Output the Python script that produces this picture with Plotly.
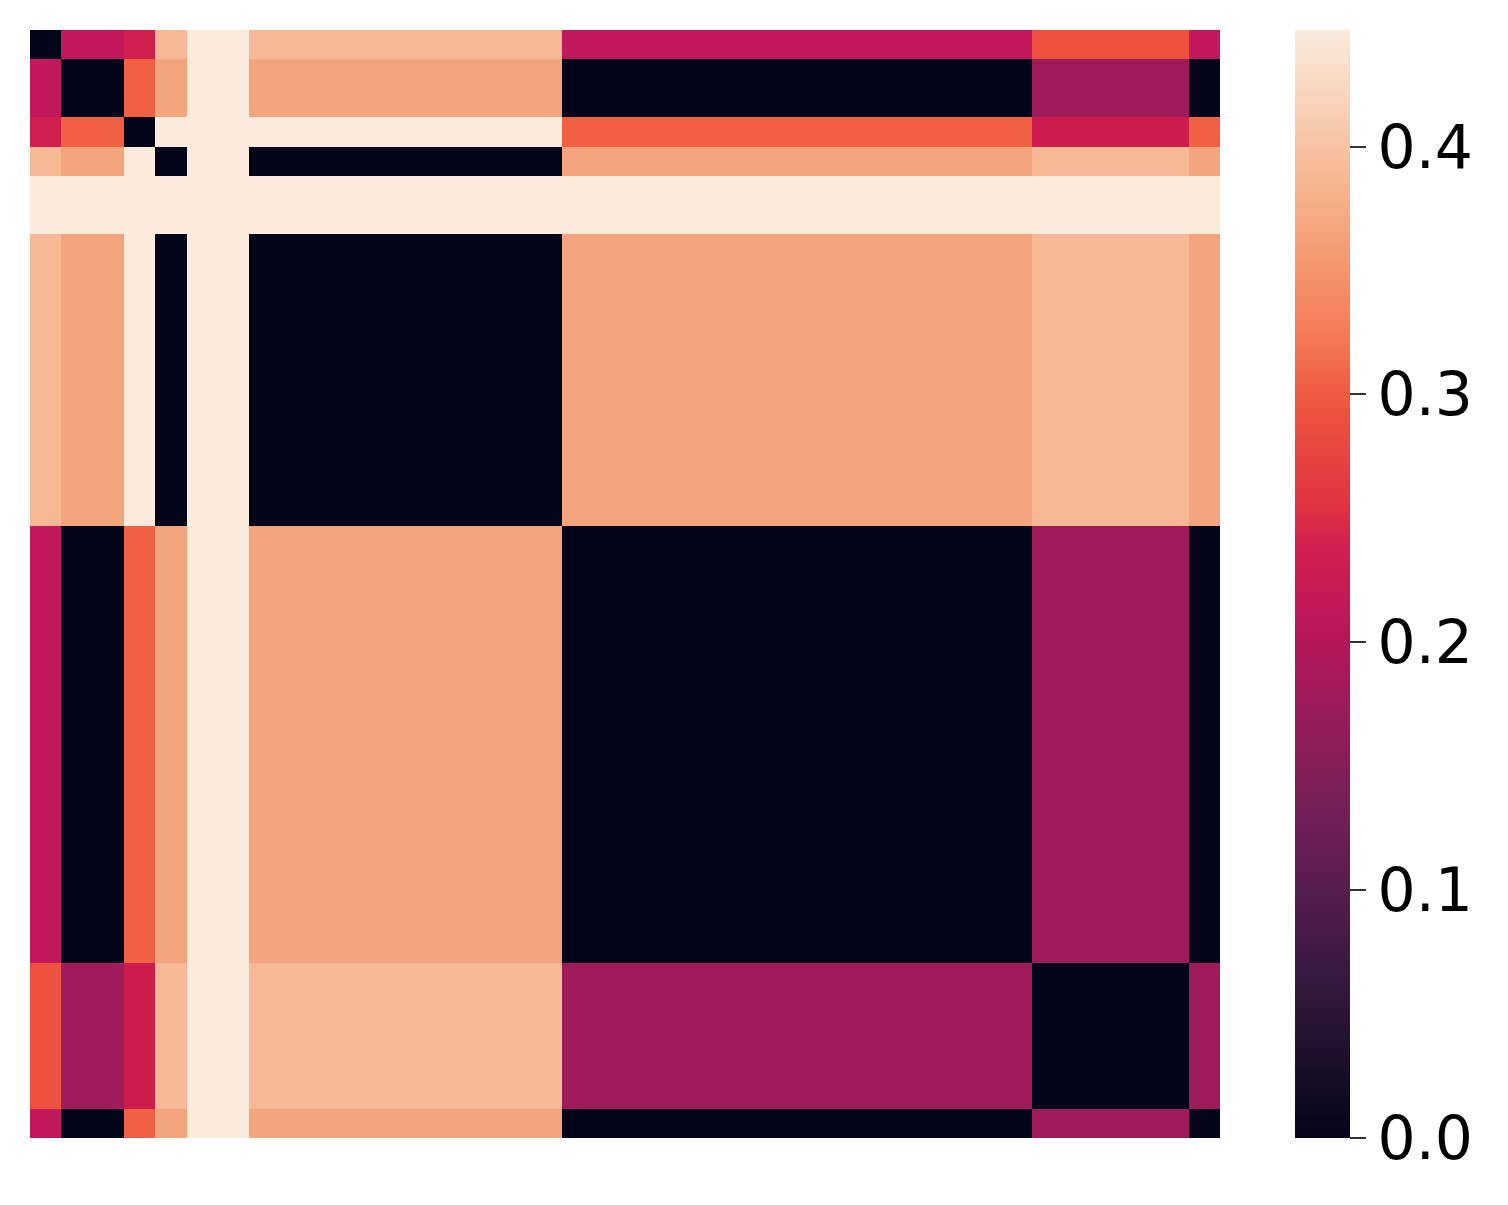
import numpy as np
import plotly.graph_objects as go

# Block structure of the 38x38 matrix (groups of identical rows/cols)
group_names = ["A", "B", "C", "D", "E", "F", "G", "H", "I"]
group_sizes = [1, 2, 1, 1, 2, 10, 15, 5, 1]

# Values between groups (symmetric)
row_A = [0.000, 0.214, 0.238, 0.388, 0.447, 0.388, 0.214, 0.292, 0.214]
row_B = [0.214, 0.000, 0.305, 0.367, 0.447, 0.367, 0.000, 0.178, 0.000]
row_C = [0.238, 0.305, 0.000, 0.447, 0.447, 0.447, 0.305, 0.230, 0.305]
row_D = [0.388, 0.367, 0.447, 0.000, 0.447, 0.000, 0.367, 0.388, 0.367]
row_E = [0.447, 0.447, 0.447, 0.447, 0.447, 0.447, 0.447, 0.447, 0.447]
row_F = [0.388, 0.367, 0.447, 0.000, 0.447, 0.000, 0.367, 0.388, 0.367]
row_G = [0.214, 0.000, 0.305, 0.367, 0.447, 0.367, 0.000, 0.178, 0.000]
row_H = [0.292, 0.178, 0.230, 0.388, 0.447, 0.388, 0.178, 0.000, 0.178]
row_I = [0.214, 0.000, 0.305, 0.367, 0.447, 0.367, 0.000, 0.178, 0.000]

cbar_tickvals = [0.0, 0.1, 0.2, 0.3, 0.4]
cbar_ticktext = ["0.0", "0.1", "0.2", "0.3", "0.4"]
z_max = 0.447

block = np.array([row_A, row_B, row_C, row_D, row_E, row_F, row_G, row_H, row_I])
idx = np.repeat(np.arange(len(group_sizes)), group_sizes)
z = block[np.ix_(idx, idx)]
n = z.shape[0]

# seaborn "rocket" colormap approximation
rocket = [
    [0.0, "#03051a"],
    [1 / 7, "#35193e"],
    [2 / 7, "#701f57"],
    [0.398, "#a01b5a"],
    [3 / 7, "#ad1759"],
    [0.479, "#c0185a"],
    [0.515, "#cc1c4e"],
    [0.532, "#d11f50"],
    [4 / 7, "#e13342"],
    [0.653, "#ec523f"],
    [0.682, "#f06043"],
    [5 / 7, "#f37651"],
    [0.821, "#f5a57d"],
    [6 / 7, "#f6b48f"],
    [1.0, "#faebdd"],
]

W, H = 1508, 1205
L, R, T, B = 30, 288, 30, 67
plot_w = W - L - R

fig = go.Figure(
    go.Heatmap(
        z=z,
        x=list(range(n)),
        y=list(range(n)),
        zmin=0,
        zmax=z_max,
        colorscale=rocket,
        xgap=0,
        ygap=0,
        colorbar=dict(
            x=(1295 - L) / plot_w,
            xanchor="left",
            xpad=0,
            ypad=0,
            y=0.5,
            yanchor="middle",
            len=1.0,
            lenmode="fraction",
            thickness=55,
            thicknessmode="pixels",
            outlinewidth=0,
            ticks="outside",
            ticklen=16,
            tickwidth=2,
            tickcolor="#333333",
            tickvals=cbar_tickvals,
            ticktext=cbar_ticktext,
            tickfont=dict(family="DejaVu Sans", size=60, color="black"),
        ),
    )
)

fig.update_layout(
    width=W,
    height=H,
    margin=dict(l=L, r=R, t=T, b=B),
    paper_bgcolor="white",
    plot_bgcolor="white",
    xaxis=dict(range=[-0.5, n - 0.5], showticklabels=False, showgrid=False,
               zeroline=False, ticks=""),
    yaxis=dict(range=[n - 0.5, -0.5], showticklabels=False, showgrid=False,
               zeroline=False, ticks=""),
)

fig.write_html("out.html")
